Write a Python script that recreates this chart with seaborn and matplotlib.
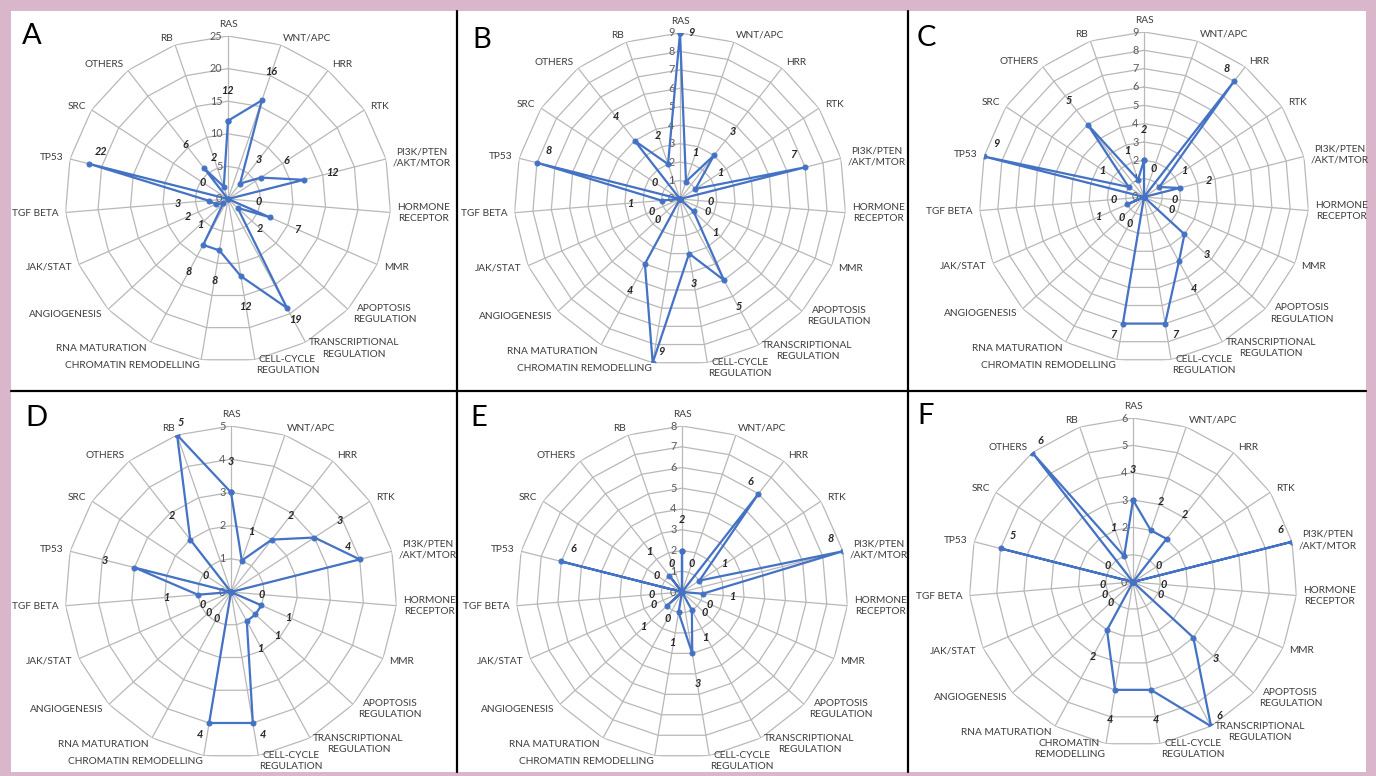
"""
Pathway radar panels A-F (six polar plots in a 2x3 grid)
"""

import numpy as np
import pandas as pd
import matplotlib
matplotlib.use('Agg')
import matplotlib.pyplot as plt
from matplotlib.lines import Line2D
from matplotlib.patches import Rectangle
import seaborn as sns

# ── data ──────────────────────────────────────────────────────────────────────

categories = ['RAS', 'WNT/APC', 'HRR', 'RTK', 'PI3K/PTEN\n/AKT/MTOR',
              'HORMONE\nRECEPTOR', 'MMR', 'APOPTOSIS\nREGULATION',
              'TRANSCRIPTIONAL\nREGULATION', 'CELL-CYCLE\nREGULATION',
              'CHROMATIN REMODELLING', 'RNA MATURATION', 'ANGIOGENESIS',
              'JAK/STAT', 'TGF BETA', 'TP53', 'SRC', 'OTHERS', 'RB']

panel_letters = ['A', 'B', 'C', 'D', 'E', 'F']

vals_a = [12, 16, 3, 6, 12, 0, 7, 2, 19, 12, 8, 8, 1, 2, 3, 22, 0, 6, 2]
vals_b = [9, 1, 3, 1, 7, 0, 0, 1, 5, 3, 9, 4, 0, 0, 1, 8, 0, 4, 2]
vals_c = [2, 0, 8, 1, 2, 0, 0, 3, 4, 7, 7, 0, 0, 1, 0, 9, 1, 5, 1]
vals_d = [3, 1, 2, 3, 4, 0, 1, 1, 1, 4, 4, 0, 0, 0, 1, 3, 0, 2, 5]
vals_e = [2, 0, 6, 1, 8, 1, 0, 0, 1, 3, 1, 0, 1, 0, 0, 6, 0, 1, 0]
vals_f = [3, 2, 2, 0, 6, 0, 0, 3, 6, 4, 4, 2, 0, 0, 0, 5, 0, 6, 1]

ticks_a = [0, 5, 10, 15, 20, 25]
ticks_b = [0, 1, 2, 3, 4, 5, 6, 7, 8, 9]
ticks_c = [0, 1, 2, 3, 4, 5, 6, 7, 8, 9]
ticks_d = [0, 1, 2, 3, 4, 5]
ticks_e = [0, 1, 2, 3, 4, 5, 6, 7, 8]
ticks_f = [0, 1, 2, 3, 4, 5, 6]

# ── layout (pixel centres / radii of each radar) ─────────────────────────────

W, H = 1376, 776
centres = [(228, 199), (680, 199), (1144, 197), (231, 592), (682, 592), (1133, 582)]
radii = [163, 166, 165, 166, 166, 164]
letter_pos = [(22, 23), (472, 27), (917, 25), (25, 405), (470, 405), (917, 403)]

PINK = '#d9b6c9'
BLUE = '#4472c4'
GRID = '#b8b8b8'
TXT = '#3c3c3c'

sns.set_style('white')
plt.rcParams['font.family'] = ['Lato', 'DejaVu Sans']


def label_offset(s, c, v, rmax):
    """Offset (points) of a data label from its marker."""
    if v < 0.75 * rmax:
        return (s * 22, c * 22)
    if c >= 0:
        return (8, 0) if abs(s) < 0.1 else (-s * 9, 9)
    if v >= rmax:
        return (6, 8)
    return (7 * np.sign(s), -8)


def draw_radar(fig, values, ticks, centre, radius, letter, lpos, cats):
    cx, cy = centre
    ax = fig.add_axes([(cx - radius) / W, (H - cy - radius) / H,
                       2 * radius / W, 2 * radius / H], projection='polar')
    ax.set_theta_zero_location('N')
    ax.set_theta_direction(-1)
    ax.set_facecolor('none')
    rmax = ticks[-1]
    n = len(cats)
    theta = np.linspace(0, 2 * np.pi, n, endpoint=False)
    theta_closed = np.append(theta, 2 * np.pi)

    # polygon grid + spokes
    for lvl in ticks[1:]:
        ax.plot(theta_closed, [lvl] * (n + 1), color=GRID, lw=0.9, zorder=1)
    for t in theta:
        ax.plot([t, t], [0, rmax], color=GRID, lw=0.9, zorder=1)

    df = pd.DataFrame({'theta': theta_closed, 'value': list(values) + [values[0]]})
    sns.lineplot(data=df, x='theta', y='value', sort=False, estimator=None,
                 color=BLUE, lw=1.6, marker='o', markersize=3.6,
                 markeredgecolor=BLUE, ax=ax, legend=False, zorder=3)

    ax.set_ylim(0, rmax)
    ax.grid(False)
    ax.set_xticks([])
    ax.set_yticks([])
    ax.spines['polar'].set_visible(False)
    ax.set_xlabel('')
    ax.set_ylabel('')

    # radial tick labels along the RAS spoke
    for lvl in ticks:
        ax.annotate(str(lvl), xy=(0, lvl), xytext=(-4, 0), textcoords='offset points',
                    ha='right', va='center', fontsize=7.8, color='#595959', zorder=2)

    # category labels
    for t, lab in zip(theta, cats):
        s, c = np.sin(t), np.cos(t)
        ha = 'left' if s > 0.05 else ('right' if s < -0.05 else 'center')
        va = 'bottom' if c > 0.95 else 'center'
        d = 4 if c < -0.95 else 5
        ax.annotate(lab, xy=(t, rmax), xytext=(s * d, c * d), textcoords='offset points',
                    ha=ha, va=va, multialignment='center', fontsize=7.3, color=TXT,
                    linespacing=1.3, annotation_clip=False)

    # data labels
    for t, v in zip(theta, values):
        s, c = np.sin(t), np.cos(t)
        ax.annotate(str(v), xy=(t, v), xytext=label_offset(s, c, v, rmax),
                    textcoords='offset points', ha='center', va='center',
                    fontsize=7.8, fontweight='bold', fontstyle='italic',
                    color='#262626', annotation_clip=False, zorder=4)

    fig.text(lpos[0] / W, 1 - lpos[1] / H, letter, fontsize=21, color='black',
             ha='left', va='top')
    return ax


fig = plt.figure(figsize=(W / 100, H / 100), dpi=100)
fig.patch.set_facecolor(PINK)
fig.add_artist(Rectangle((11 / W, 4 / H), 1355 / W, 761 / H, transform=fig.transFigure,
                         facecolor='white', edgecolor='none', zorder=0))

# panel separators
for x in (457, 908):
    fig.add_artist(Line2D([x / W, x / W], [4 / H, 1 - 11 / H], transform=fig.transFigure,
                          color='black', lw=1.6))
fig.add_artist(Line2D([11 / W, 1366 / W], [1 - 391 / H, 1 - 391 / H],
                      transform=fig.transFigure, color='black', lw=1.6))

all_vals = [vals_a, vals_b, vals_c, vals_d, vals_e, vals_f]
all_ticks = [ticks_a, ticks_b, ticks_c, ticks_d, ticks_e, ticks_f]

for i in range(6):
    cats = list(categories)
    if panel_letters[i] == 'F':
        cats[10] = 'CHROMATIN\nREMODELLING'
    draw_radar(fig, all_vals[i], all_ticks[i], centres[i], radii[i],
               panel_letters[i], letter_pos[i], cats)

fig.savefig('out.png', dpi=100, facecolor=fig.get_facecolor())
plt.close(fig)
